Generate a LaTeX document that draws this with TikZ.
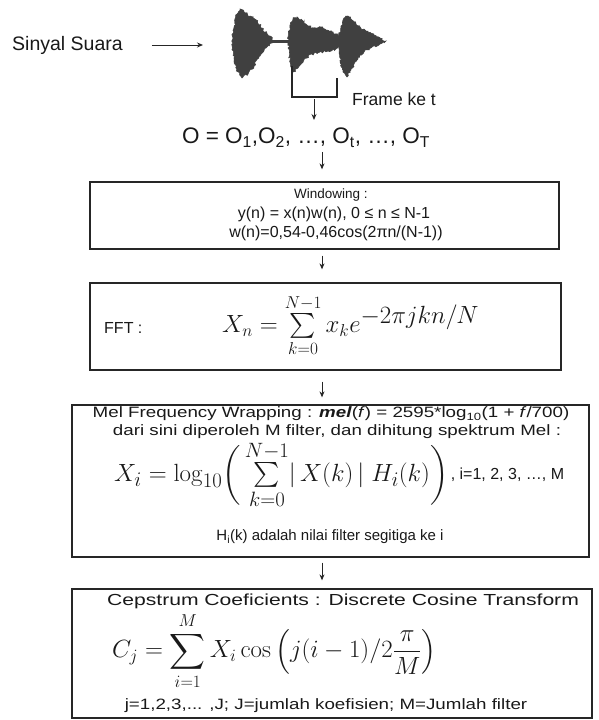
\documentclass[tikz,border=0pt]{standalone}
\usepackage{amsmath}
\usepackage[no-math]{fontspec}
\setmainfont{Liberation Sans}
\newfontfamily\wideA[FakeStretch=1.25]{Liberation Sans}
\newfontfamily\wideB[FakeStretch=1.32]{Liberation Sans}
\usetikzlibrary{arrows.meta,decorations.pathmorphing}
\newcommand{\limtxt}[1]{\mbox{\fontsize{17}{17}\selectfont$#1$}}
\tikzset{
  box/.style={draw=black!85, line width=1.3pt, rectangle, inner sep=0pt},
  arr/.style={draw=black!85, line width=1pt, -{Stealth[length=6pt,width=5pt]}},
  txt/.style={inner sep=0pt, text=black!90, font=\fontsize{16}{19}\selectfont},
  widetxt/.style={inner sep=0pt, text=black!90, font=\wideA\fontsize{15}{18}\selectfont},
  bigtxt/.style={inner sep=0pt, text=black!90, font=\fontsize{19.5}{22}\selectfont},
  mathtxt/.style={inner sep=0pt, text=black!90},
  wave/.style={fill=black!75, draw=black!75, line width=0.6pt,
    decorate, decoration={random steps, segment length=1.6pt, amplitude=1.2pt}},
}
\begin{document}
\begin{tikzpicture}[x=1pt,y=-1pt]
\pgfmathsetseed{7}
\useasboundingbox (0,0) rectangle (598,720);
\fill[white] (0,0) rectangle (598,720);

% top row
\node[bigtxt, anchor=west] (sinyal) at (12,45) {Sinyal Suara};
\coordinate (wavein) at (203,45);
\draw[arr, shorten <=29pt] (sinyal.east) -- (wavein);

% waveform
\path[wave] (232,42) -- (234,28) -- (237,14) -- (240,9) -- (244,12) -- (250,16) -- (256,20) -- (262,28) -- (268,35) -- (272,39) -- (272,43) -- (266,48) -- (260,56) -- (254,66) -- (248,74) -- (242,78) -- (237,70) -- (234,58) -- cycle;
\fill[black!75] (271,40) rectangle (290,43);
\path[wave] (288,42) -- (290,28) -- (293,19) -- (297,17) -- (302,20) -- (308,26) -- (314,28) -- (320,27) -- (326,30) -- (332,32) -- (338,35) -- (342,38) -- (342,45) -- (336,49) -- (328,51) -- (320,52) -- (312,54) -- (304,60) -- (298,68) -- (293,72) -- (290,60) -- cycle;
\path[wave] (339,40) -- (341,26) -- (344,18) -- (348,16) -- (352,20) -- (358,26) -- (366,31) -- (374,35) -- (380,38) -- (386,41) -- (380,44) -- (372,47) -- (364,52) -- (356,60) -- (351,70) -- (347,77) -- (343,72) -- (340,58) -- cycle;

% bracket
\draw[black!85, line width=1.3pt] (292,66) -- (292,97) -- (337,97) -- (337,78);
\coordinate (brk) at (314,99);
\node[inner sep=0pt, text=black!90, font=\fontsize{17.5}{20}\selectfont, anchor=west] (frame) at (352,99) {Frame ke t};

% observation sequence
\node[inner sep=0pt, text=black!90, font=\fontsize{22.5}{25}\selectfont] (obs) at (306,138)
  {O = O\textsubscript{1},O\textsubscript{2}, \dots, O\textsubscript{t}, \dots, O\textsubscript{T}};

% boxes
\node[box, minimum width=469pt, minimum height=67pt] (win) at (324.5,215.5) {};
\node[box, minimum width=471pt, minimum height=87pt] (fft) at (325.5,326.5) {};
\node[box, minimum width=517pt, minimum height=152pt] (mel) at (330.5,481) {};
\node[box, minimum width=520pt, minimum height=129pt] (cep) at (332,653.5) {};

\coordinate (ax) at (322,0);

% windowing text
\node[inner sep=0pt, text=black!90, font=\fontsize{13.5}{16}\selectfont] (wt1) at (331,195) {Windowing :};
\node[txt] (wt2) at (334,214) {y(n) = x(n)w(n), 0 ≤ n ≤ N-1};
\node[txt] (wt3) at (336,233) {w(n)=0,54-0,46cos(2πn/(N-1))};

% FFT text
\node[txt, anchor=west] (ft1) at (104,328) {FFT :};
\node[mathtxt, font=\fontsize{24}{27}\selectfont, anchor=west] (ft2) at (222,326)
  {$X_n \mathrel{=} \sum\limits_{\limtxt{k{=}0}}^{\limtxt{N{-}1}} x_k e^{\displaystyle -2\pi jkn/N}$};

% Mel text
\node[widetxt] (mt1) at (331,414) {Mel Frequency Wrapping : \textbf{\textit{mel}}(\textit{f}) = 2595*log\textsubscript{10}(1 + \textit{f}/700)};
\node[widetxt] (mt2) at (337,432) {dari sini diperoleh M filter, dan dihitung spektrum Mel :};
\node[mathtxt, font=\fontsize{28}{31}\selectfont, anchor=west] (mt3) at (114,475)
  {$X_i = \log_{10}\!\bigg(\sum\limits_{k=0}^{N-1} \lvert\, X(k)\,\rvert\; H_i(k)\bigg)$};
\node[txt, anchor=west] (mt4) at ([xshift=2pt]mt3.east) {, i=1, 2, 3, \dots, M};
\node[inner sep=0pt, text=black!90, font=\fontsize{15}{18}\selectfont] (mt5) at (330,537) {H\textsubscript{i}(k) adalah nilai filter segitiga ke i};

% Cepstrum text
\node[inner sep=0pt, text=black!90, font=\wideB\fontsize{16}{19}\selectfont] (ct1) at (343,601) {Cepstrum Coeficients : Discrete Cosine Transform};
\node[mathtxt, font=\fontsize{26.5}{29}\selectfont, anchor=west] (ct2) at (112,651)
  {$\displaystyle C_j = \sum_{i=1}^{M} X_i \cos\left( j(i-1)/2\frac{\pi}{M}\right)$};
\node[widetxt] (ct3) at (326,706) {j=1,2,3,... ,J; J=jumlah koefisien; M=Jumlah filter};

% connectors
\draw[arr] (brk) -- ++(0,21);
\draw[arr, shorten <=4pt, shorten >=12pt] (obs.south -| ax) -- (win.north -| ax);
\draw[arr, shorten <=6pt, shorten >=13pt] (win.south -| ax) -- (fft.north -| ax);
\draw[arr, shorten <=11pt, shorten >=7pt] (fft.south -| ax) -- (mel.north -| ax);
\draw[arr, shorten <=5pt, shorten >=8pt] (mel.south -| ax) -- (cep.north -| ax);
\end{tikzpicture}
\end{document}
